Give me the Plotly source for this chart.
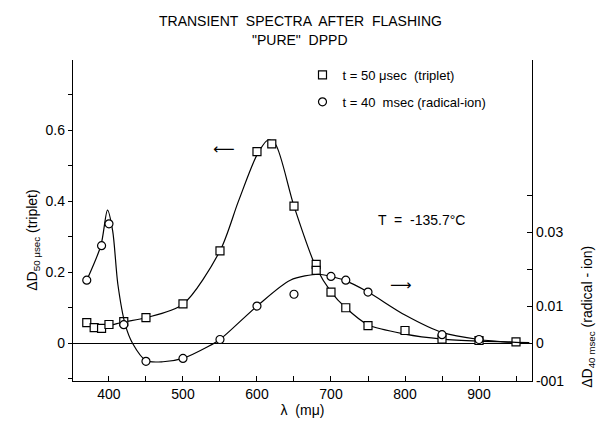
import plotly.graph_objects as go

# ---- data ----
# triplet, t = 50 usec (left axis)
triplet_x = [370, 380, 390, 400, 420, 450, 500, 550, 600, 620, 650, 680, 680, 700, 720, 750, 800, 850, 900, 950]
triplet_y = [0.058, 0.044, 0.042, 0.053, 0.061, 0.072, 0.111, 0.26, 0.539, 0.561, 0.386, 0.222, 0.205, 0.144, 0.10, 0.05, 0.036, 0.012, 0.008, 0.004]
# hand-drawn smooth curve through the triplet points
triplet_curve_x = [370, 385, 400, 420, 450, 500, 550, 575, 600, 615, 625, 650, 680, 700, 720, 750, 800, 850, 900, 950, 968]
triplet_curve_y = [0.058, 0.046, 0.050, 0.060, 0.072, 0.110, 0.26, 0.40, 0.53, 0.572, 0.56, 0.386, 0.213, 0.145, 0.10, 0.052, 0.026, 0.012, 0.006, 0.003, 0.002]

# radical-ion, t = 40 msec (right axis)
radical_x = [370, 390, 400, 420, 450, 500, 550, 600, 650, 700, 720, 750, 850, 900]
radical_y = [0.0171, 0.0264, 0.0323, 0.0051, -0.0048, -0.0040, 0.0011, 0.0101, 0.0133, 0.0181, 0.0171, 0.0139, 0.0024, 0.0011]
radical_curve_x = [370, 389, 398, 405, 412, 422, 432, 450, 473, 500, 534, 550, 600, 645, 683, 700, 718, 750, 800, 850, 900, 950, 965]
radical_curve_y = [0.0171, 0.0264, 0.0360, 0.0304, 0.0160, 0.0051, 0.0, -0.0046, -0.0049, -0.0040, -0.0008, 0.0011, 0.0101, 0.0171, 0.0187, 0.0181, 0.0171, 0.0139, 0.0077, 0.0030, 0.0011, 0.0003, 0.0002]

y2_ticks = [-0.01, 0, 0.01, 0.03]
y2_ticktext = ["-001", "0", "0.01", "0.03"]
y2_minor_ticks = [0.02, 0.04]

FONT = "Liberation Sans"
BLACK = "black"

fig = go.Figure()

fig.add_trace(go.Scatter(x=triplet_curve_x, y=triplet_curve_y, mode="lines",
                         line=dict(color=BLACK, width=1.2, shape="spline", smoothing=0.8),
                         showlegend=False, hoverinfo="skip"))
fig.add_trace(go.Scatter(x=radical_curve_x, y=radical_curve_y, mode="lines", yaxis="y2",
                         line=dict(color=BLACK, width=1.2, shape="spline", smoothing=0.8),
                         showlegend=False, hoverinfo="skip"))
fig.add_trace(go.Scatter(x=triplet_x, y=triplet_y, mode="markers",
                         name="t = 50 μsec  (triplet)", legendgroup="a",
                         marker=dict(symbol="square", size=8, color="white",
                                     line=dict(color=BLACK, width=1.2))))
fig.add_trace(go.Scatter(x=radical_x, y=radical_y, mode="markers", yaxis="y2",
                         name="t = 40  msec (radical-ion)", legendgroup="b",
                         marker=dict(symbol="circle", size=8, color="white",
                                     line=dict(color=BLACK, width=1.2))))

fig.update_layout(
    width=602, height=427,
    margin=dict(l=73, r=70, t=60, b=42),
    paper_bgcolor="white", plot_bgcolor="white",
    font=dict(family=FONT, size=14, color=BLACK),
    showlegend=True,
    legend=dict(x=0.50, y=1.0, xanchor="left", yanchor="top",
                bgcolor="rgba(0,0,0,0)", font=dict(size=13, family=FONT),
                tracegroupgap=7, traceorder="grouped"),
    xaxis=dict(range=[351.4, 971.6], showline=True, linecolor=BLACK, linewidth=1.3,
               ticks="inside", ticklen=5, tickcolor=BLACK, tick0=400, dtick=100,
               minor=dict(ticks="inside", ticklen=5, tickcolor=BLACK, dtick=50, tick0=350),
               showgrid=False, zeroline=False,
               title=dict(text="λ  (mμ)", font=dict(size=14), standoff=3)),
    yaxis=dict(range=[-0.106, 0.797], showline=True, linecolor=BLACK, linewidth=1.3,
               ticks="outside", ticklen=4, tickcolor=BLACK, tick0=0, dtick=0.2,
               tickformat="~g",
               minor=dict(ticks="outside", ticklen=4, tickcolor=BLACK, dtick=0.1, tick0=0),
               showgrid=False, zeroline=True, zerolinecolor=BLACK, zerolinewidth=1.3),
    yaxis2=dict(range=[-0.0101, 0.0765], overlaying="y", side="right", showline=True,
                linecolor=BLACK, linewidth=1.3, ticks="inside", ticklen=5,
                tickcolor=BLACK, tickmode="array", tickvals=y2_ticks, ticktext=y2_ticktext,
                minor=dict(ticks="inside", ticklen=5, tickcolor=BLACK,
                           tickmode="array", tickvals=y2_minor_ticks),
                showgrid=False, zeroline=False),
)

C = dict(xanchor="center", yanchor="middle", showarrow=False)
annotations = [
    dict(text="TRANSIENT  SPECTRA  AFTER  FLASHING", xref="paper", yref="paper",
         x=0.4946, y=1.123, font=dict(size=14), **C),
    dict(text="\"PURE\"  DPPD", xref="paper", yref="paper",
         x=0.4946, y=1.062, font=dict(size=14), **C),
    dict(text="ΔD<sub>50 μsec</sub> (triplet)", xref="paper", yref="paper",
         x=-0.087, y=0.437, textangle=-90, font=dict(size=14), **C),
    dict(text="ΔD<sub>40 msec</sub> (radical - ion)", xref="paper", yref="paper",
         x=1.122, y=0.2, textangle=-90, font=dict(size=14), **C),
    dict(text="T  =  -135.7°C", x=822, y=0.347, xref="x", yref="y",
         font=dict(size=14), **C),
    # direction arrows
    dict(text="⟵", x=556, y=0.547, xref="x", yref="y",
         font=dict(family="DejaVu Sans", size=15), **C),
    dict(text="⟶", x=795, y=0.164, xref="x", yref="y",
         font=dict(family="DejaVu Sans", size=15), **C),
]
fig.update_layout(annotations=annotations)

fig.write_html("out.html")
